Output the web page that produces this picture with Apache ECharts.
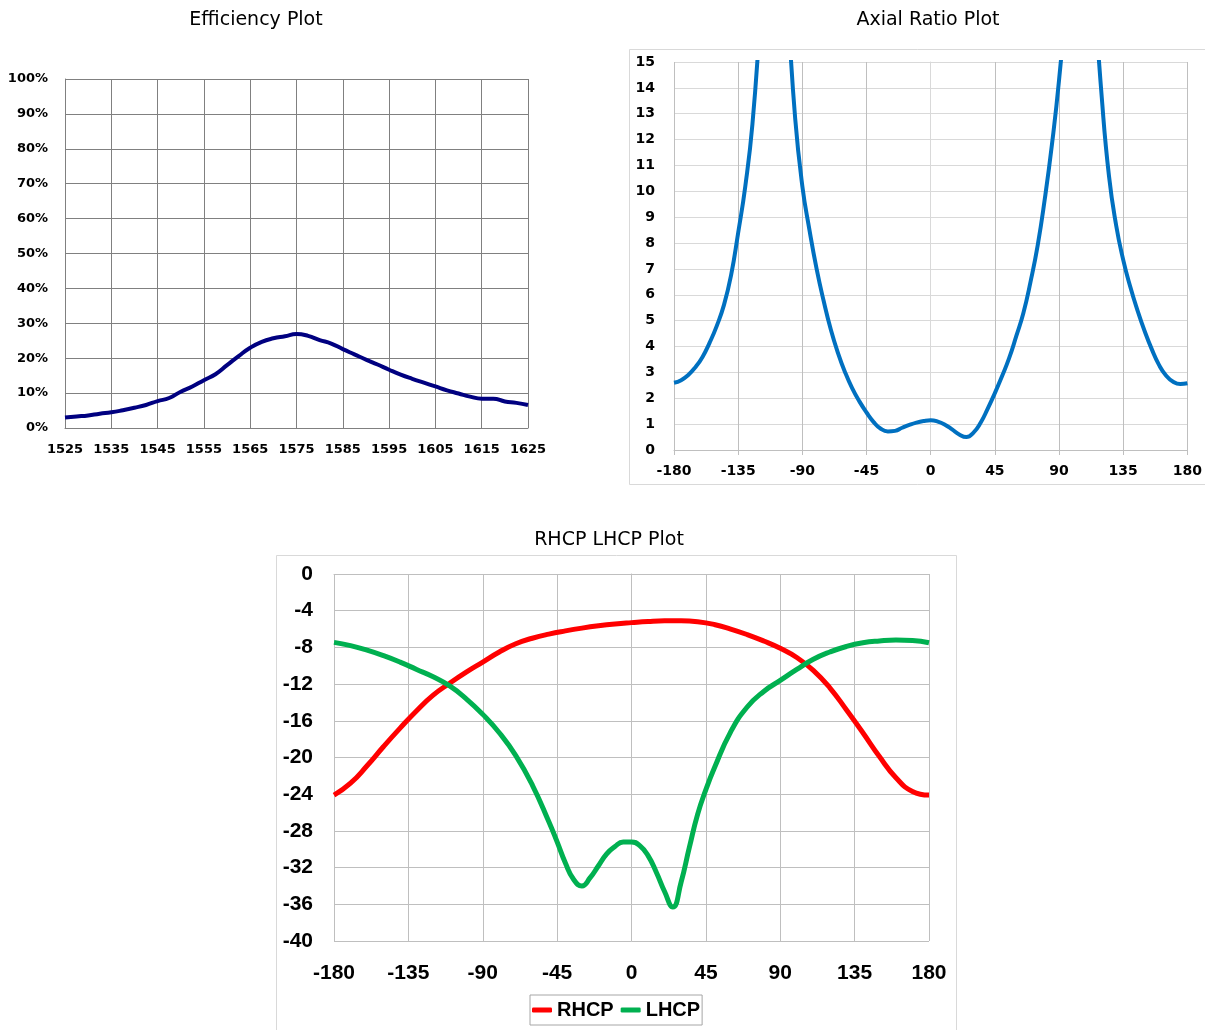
<!DOCTYPE html>
<html>
<head>
<meta charset="utf-8">
<script src="https://cdn.jsdelivr.net/npm/echarts@6/dist/echarts.min.js"></script>
<style>
  html, body { margin: 0; padding: 0; background: #fff; }
  #main { width: 1205px; height: 1030px; }
</style>
</head>
<body>
<div id="main"></div>
<script>
// efficiency vs frequency (MHz, %)
var effFreq = [1525, 1527.5, 1530, 1532.5, 1535, 1537.5, 1540, 1542.5, 1545, 1547.5, 1550, 1552.5, 1555, 1557.5,
  1560, 1562.5, 1565, 1567.5, 1570, 1572.5, 1575, 1577.5, 1580, 1582.5, 1585, 1587.5, 1590, 1592.5, 1595,
  1597.5, 1600, 1602.5, 1605, 1607.5, 1610, 1612.5, 1615, 1617.5, 1620, 1622.5, 1625];
var effVal = [3.0, 3.3, 3.6, 4.1, 4.5, 5.1, 5.8, 6.6, 7.7, 8.6, 10.4, 11.9, 13.7, 15.4,
  18.0, 20.6, 23.0, 24.7, 25.7, 26.3, 26.9, 26.4, 25.2, 24.2, 22.6, 21.1, 19.6, 18.2, 16.7,
  15.3, 14.1, 13.0, 11.9, 10.8, 9.9, 9.0, 8.4, 8.4, 7.6, 7.2, 6.6];
var effXTicks = [1525, 1535, 1545, 1555, 1565, 1575, 1585, 1595, 1605, 1615, 1625];
var effYTicks = [0, 10, 20, 30, 40, 50, 60, 70, 80, 90, 100];

// axial ratio vs angle, 5 deg steps (values above 15 run off the top)
var arAngle = [-180, -175, -170, -165, -160, -155, -150, -145, -140, -135, -130, -125, -120, -115, -110, -105, -100, -95,
  -90, -85, -80, -75, -70, -65, -60, -55, -50, -45, -40, -35, -30, -25, -20, -15, -10, -5, 0,
  5, 10, 15, 20, 25, 30, 35, 40, 45, 50, 55, 60, 65, 70, 75, 80, 85, 90, 95, 100, 105, 110, 115,
  120, 125, 130, 135, 140, 145, 150, 155, 160, 165, 170, 175, 180];
var arVal = [2.6, 2.7, 2.9, 3.2, 3.6, 4.15, 4.8, 5.6, 6.75, 8.4, 10.2, 12.6, 16.4, 22, 26, 22, 17, 12.8,
  10.2, 8.5, 7.0, 5.75, 4.65, 3.75, 3.0, 2.38, 1.88, 1.45, 1.08, 0.82, 0.72, 0.74, 0.86, 0.97, 1.06, 1.12, 1.15,
  1.1, 0.98, 0.8, 0.6, 0.5, 0.67, 1.05, 1.6, 2.2, 2.85, 3.55, 4.4, 5.3, 6.5, 7.9, 9.7, 11.8, 14.3, 17.5, 22, 26, 22, 17.5,
  13.6, 10.6, 8.7, 7.35, 6.3, 5.4, 4.6, 3.9, 3.3, 2.88, 2.64, 2.55, 2.58];
var arXTicks = [-180, -135, -90, -45, 0, 45, 90, 135, 180];
var arYTicks = [0, 1, 2, 3, 4, 5, 6, 7, 8, 9, 10, 11, 12, 13, 14, 15];

// RHCP / LHCP gain vs angle
var rhcpAngle = [-180, -170, -160, -150, -140, -130, -120, -110, -100, -90, -80, -70, -60, -50, -40, -30, -20, -10,
  0, 10, 20, 30, 40, 50, 60, 70, 80, 90, 100, 110, 120, 130, 140, 150, 160, 170, 180];
var rhcpVal = [-24.1, -22.8, -20.9, -18.8, -16.8, -14.9, -13.2, -11.9, -10.7, -9.6, -8.5, -7.6, -7.0, -6.55, -6.2, -5.9, -5.65, -5.45,
  -5.3, -5.17, -5.1, -5.1, -5.2, -5.5, -6.0, -6.6, -7.3, -8.1, -9.1, -10.5, -12.4, -14.8, -17.3, -19.9, -22.2, -23.7, -24.1];
var lhcpAngle = [-180, -170, -160, -150, -140, -130, -120, -110, -100, -90, -80, -70, -60, -50, -45, -40, -35, -30, -25,
  -20, -15, -10, -5, 0, 5, 10, 15, 20, 25, 30, 35, 40, 45, 50, 60, 70, 80, 90, 100, 110, 120, 130, 140, 150, 160, 170, 180];
var lhcpVal = [-7.45, -7.8, -8.3, -8.9, -9.6, -10.4, -11.2, -12.2, -13.6, -15.3, -17.3, -19.8, -23.0, -27.0, -29.2, -31.5, -33.3, -34.0, -33.1,
  -31.8, -30.5, -29.7, -29.2, -29.2, -29.6, -30.7, -32.5, -34.6, -36.3, -33.6, -29.8, -26.2, -23.5, -21.2, -17.2, -14.5, -12.8, -11.6, -10.4, -9.3, -8.5, -7.9, -7.5, -7.3, -7.2, -7.25, -7.5];
var polXTicks = [-180, -135, -90, -45, 0, 45, 90, 135, 180];
var polYTicks = [-40, -36, -32, -28, -24, -20, -16, -12, -8, -4, 0];

function pairs(xs, ys) {
  return xs.map(function (x, i) { return [x, ys[i]]; });
}
function range(ticks) {
  return { min: ticks[0], max: ticks[ticks.length - 1], interval: ticks[1] - ticks[0] };
}

var myChart = echarts.init(document.getElementById('main'));

var effX = range(effXTicks), effY = range(effYTicks);
var arX = range(arXTicks), arY = range(arYTicks);
var polX = range(polXTicks), polY = range(polYTicks);

var verdana = '"DejaVu Sans", Verdana, sans-serif';
var arial = '"Liberation Sans", Arial, sans-serif';

option = {
  animation: false,
  backgroundColor: '#fff',
  graphic: [
    { type: 'rect', shape: { x: 629.5, y: 49.5, width: 620, height: 435 }, style: { fill: 'none', stroke: '#d9d9d9', lineWidth: 1 }, z: -1 },
    { type: 'rect', shape: { x: 276.5, y: 555.5, width: 680, height: 500 }, style: { fill: 'none', stroke: '#d9d9d9', lineWidth: 1 }, z: -1 },
    { type: 'text', style: { text: 'Efficiency Plot', x: 256, y: 20, textAlign: 'center', textVerticalAlign: 'middle', font: '19px ' + verdana, fill: '#000' } },
    { type: 'text', style: { text: 'Axial Ratio Plot', x: 928, y: 20, textAlign: 'center', textVerticalAlign: 'middle', font: '19px ' + verdana, fill: '#000' } },
    { type: 'text', style: { text: 'RHCP LHCP Plot', x: 609, y: 540, textAlign: 'center', textVerticalAlign: 'middle', font: '19px ' + verdana, fill: '#000' } }
  ],
  legend: {
    data: ['RHCP', 'LHCP'],
    left: 530,
    top: 995,
    orient: 'horizontal',
    icon: 'roundRect',
    itemWidth: 20,
    itemHeight: 5,
    itemGap: 7,
    padding: [5, 2],
    borderColor: '#a6a6a6',
    borderWidth: 1,
    textStyle: { color: '#000', fontSize: 20, fontWeight: 'bold', fontFamily: arial }
  },
  grid: [
    { left: 65, top: 79, width: 463, height: 349 },
    { left: 674, top: 62, width: 518, height: 388 },
    { left: 334, top: 574, width: 595, height: 367 }
  ],
  xAxis: [
    {
      gridIndex: 0, type: 'value', min: effX.min, max: effX.max, interval: effX.interval,
      axisLine: { lineStyle: { color: '#808080' } },
      axisTick: { show: false },
      splitLine: { lineStyle: { color: '#808080' } },
      axisLabel: { color: '#000', fontSize: 13, fontWeight: 'bold', fontFamily: verdana, margin: 15,
        formatter: function (v) { return String(v); } }
    },
    {
      gridIndex: 1, type: 'value', min: arX.min, max: arX.max, interval: arX.interval,
      axisLine: { lineStyle: { color: '#bfbfbf' } },
      axisTick: { show: true, length: 5, lineStyle: { color: '#bfbfbf' } },
      splitLine: { lineStyle: { color: '#bfbfbf' } },
      axisLabel: { color: '#000', fontSize: 14, fontWeight: 'bold', fontFamily: verdana, margin: 14 }
    },
    {
      gridIndex: 2, type: 'value', min: polX.min, max: polX.max, interval: polX.interval,
      axisLine: { lineStyle: { color: '#bfbfbf' } },
      axisTick: { show: false },
      splitLine: { lineStyle: { color: '#bfbfbf' } },
      axisLabel: { color: '#000', fontSize: 21, fontWeight: 'bold', fontFamily: arial, margin: 22 }
    }
  ],
  yAxis: [
    {
      gridIndex: 0, type: 'value', min: effY.min, max: effY.max, interval: effY.interval,
      axisLine: { show: true, lineStyle: { color: '#808080' } },
      axisTick: { show: false },
      splitLine: { lineStyle: { color: '#808080' } },
      axisLabel: { color: '#000', fontSize: 13, fontWeight: 'bold', fontFamily: verdana, margin: 17, formatter: '{value}%' }
    },
    {
      gridIndex: 1, type: 'value', min: arY.min, max: arY.max, interval: arY.interval,
      axisLine: { show: true, lineStyle: { color: '#d9d9d9' } },
      axisTick: { show: false },
      splitLine: { lineStyle: { color: '#d9d9d9' } },
      axisLabel: { color: '#000', fontSize: 14, fontWeight: 'bold', fontFamily: verdana, margin: 19 }
    },
    {
      gridIndex: 2, type: 'value', min: polY.min, max: polY.max, interval: polY.interval,
      axisLine: { show: true, lineStyle: { color: '#bfbfbf' } },
      axisTick: { show: false },
      splitLine: { lineStyle: { color: '#bfbfbf' } },
      axisLabel: { color: '#000', fontSize: 21, fontWeight: 'bold', fontFamily: arial, margin: 21 }
    }
  ],
  series: [
    {
      name: 'Efficiency', type: 'line', xAxisIndex: 0, yAxisIndex: 0,
      data: pairs(effFreq, effVal), smooth: 0.5, showSymbol: false,
      lineStyle: { color: '#000080', width: 4 }, itemStyle: { color: '#000080' }
    },
    {
      name: 'Axial Ratio', type: 'line', xAxisIndex: 1, yAxisIndex: 1,
      data: pairs(arAngle, arVal), smooth: 0.5, showSymbol: false, clip: true,
      lineStyle: { color: '#0070c0', width: 4 }, itemStyle: { color: '#0070c0' }
    },
    {
      name: 'RHCP', type: 'line', xAxisIndex: 2, yAxisIndex: 2,
      data: pairs(rhcpAngle, rhcpVal), smooth: 0.5, showSymbol: false,
      lineStyle: { color: '#ff0000', width: 5 }, itemStyle: { color: '#ff0000' }
    },
    {
      name: 'LHCP', type: 'line', xAxisIndex: 2, yAxisIndex: 2,
      data: pairs(lhcpAngle, lhcpVal), smooth: 0.5, showSymbol: false,
      lineStyle: { color: '#00b050', width: 5 }, itemStyle: { color: '#00b050' }
    }
  ]
};

myChart.setOption(option);
window.addEventListener("resize", function () {
  myChart.resize();
});
</script>
</body>
</html>
